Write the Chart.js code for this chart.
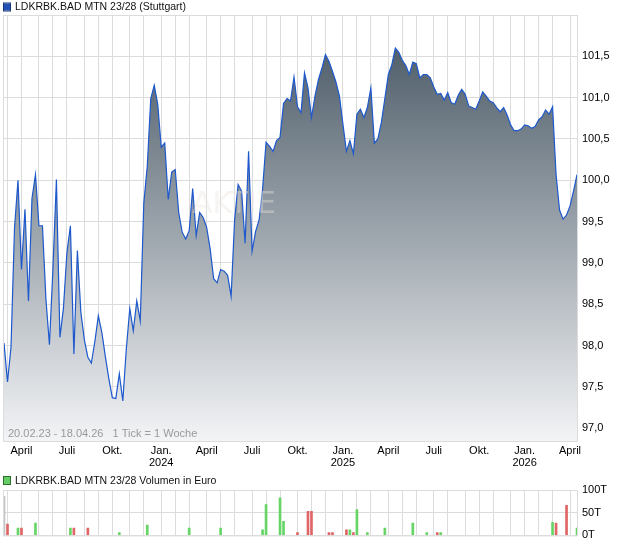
<!DOCTYPE html>
<html>
<head>
<meta charset="utf-8">
<script src="https://cdn.jsdelivr.net/npm/chart.js@4.4.1/dist/chart.umd.min.js"></script>
<style>
  body { margin: 0; background: #fff; }
  canvas { display: block; }
</style>
</head>
<body>
<canvas id="price" width="620" height="470"></canvas>
<canvas id="volume" width="620" height="76"></canvas>
<script>
// weekly closing prices, one per week starting 20.02.2023
const prices = [
  98.03, 97.56, 97.98, 99.42, 100.00, 98.92, 99.65, 98.54, 99.78, 100.07,
  99.45, 99.45, 98.56, 98.01, 98.93, 100.01, 98.10, 98.45, 99.12, 99.45,
  97.90, 99.15, 98.40, 98.07, 97.86, 97.79, 98.05, 98.36, 98.16, 97.87,
  97.60, 97.37, 97.36, 97.66, 97.33, 97.96, 98.45, 98.18, 98.54, 98.30,
  99.72, 100.17, 100.99, 101.15, 100.92, 100.40, 100.45, 99.77, 100.10, 100.13,
  99.61, 99.37, 99.29, 99.39, 99.90, 99.33, 99.61, 99.55, 99.43, 99.17,
  98.81, 98.76, 98.92, 98.90, 98.85, 98.60, 99.52, 99.95, 99.87, 99.24,
  100.35, 99.14, 99.38, 99.52, 99.89, 100.46, 100.41, 100.35, 100.48, 100.52,
  100.93, 100.99, 100.96, 101.25, 100.89, 100.82, 101.30, 101.12, 100.76, 101.02,
  101.22, 101.36, 101.52, 101.44, 101.32, 101.19, 101.02, 100.68, 100.35, 100.48,
  100.32, 100.80, 100.86, 100.76, 100.88, 101.12, 100.45, 100.50, 100.70, 100.99,
  101.28, 101.40, 101.60, 101.55, 101.45, 101.39, 101.28, 101.43, 101.41, 101.24,
  101.28, 101.28, 101.24, 101.13, 101.04, 101.05, 100.97, 101.06, 100.94, 100.92,
  101.03, 101.10, 101.04, 100.90, 100.88, 100.86, 100.96, 101.07, 101.02, 100.96,
  100.94, 100.88, 100.83, 100.88, 100.79, 100.67, 100.60, 100.60, 100.62, 100.67,
  100.66, 100.63, 100.65, 100.73, 100.77, 100.85, 100.80, 100.89, 100.07, 99.64,
  99.53, 99.58, 99.69, 99.87, 100.07
];

// weeks with turnover, turnover in thousand euro, bar colour
const volWeeks = [0, 1, 4, 5, 9, 19, 20, 24, 33, 41, 53, 62, 74, 75, 79, 80, 84, 87, 88, 93,
  94, 98, 99, 100, 101, 104, 109, 117, 121, 124, 125, 157, 158, 161, 164];
const volValues = [86, 25, 16, 16, 27, 16, 16, 16, 6, 23, 16, 16, 12, 68, 83, 31, 6, 53, 53, 6,
  6, 12, 12, 6, 57, 6, 16, 27, 6, 6, 6, 29, 27, 66, 16];
const volColors = ['none', 'down', 'up', 'down', 'up', 'up', 'down', 'down', 'up', 'up', 'up', 'up',
  'up', 'up', 'up', 'up', 'down', 'down', 'down', 'down', 'down', 'down', 'up', 'down', 'up', 'up',
  'up', 'up', 'up', 'down', 'up', 'up', 'down', 'down', 'up'];

// axis ticks
const priceTicks = [97, 97.5, 98, 98.5, 99, 99.5, 100, 100.5, 101, 101.5];
const volumeTicks = [0, 50, 100];
const quarterLabels = { 0: 'Jan.', 3: 'April', 6: 'Juli', 9: 'Okt.' };

const startDay = Date.UTC(2023, 1, 20);
const gridColor = '#dcdcdc';
const barPalette = { up: '#66d566', down: '#de6666', none: '#c4c4c4' };

Chart.defaults.font.family = '"Liberation Sans", Arial, sans-serif';
Chart.defaults.font.size = 11;
Chart.defaults.color = '#000';

/**
 * monthly grid positions, snapped to the week that holds the 1st of the month
 */
const buildMonthTicks = () => {
  const ticks = [];
  for (let y = 2023; y <= 2026; y++) {
    for (let m = 0; m < 12; m++) {
      const day = Date.UTC(y, m, 1);
      if (day <= startDay || (y === 2026 && m > 3)) continue;
      const week = Math.floor((day - startDay) / (7 * 864e5));
      let label = quarterLabels[m] || '';
      if (m === 0) label = [label, String(y)];
      ticks.push({ week, label });
    }
  }
  return ticks;
};
const monthTicks = buildMonthTicks();

/**
 * x scale in weeks, shared by both panels
 * @param {boolean} showLabels draw month labels
 * @param {number} height fixed axis height
 */
const weekScale = (showLabels, height) => ({
  type: 'linear',
  min: -0.29,
  max: 164.28,
  offset: false,
  grid: { color: gridColor, drawTicks: false, offset: false },
  border: { display: false },
  ticks: {
    display: showLabels,
    autoSkip: false,
    maxRotation: 0,
    padding: 4,
    font: { lineHeight: 1.1 },
    callback: (value, index) => (monthTicks[index] ? monthTicks[index].label : '')
  },
  afterBuildTicks: scale => {
    scale.ticks = monthTicks.map(t => ({ value: t.week }));
  },
  afterFit: scale => {
    scale.height = height;
  }
});

/**
 * little legend square with its caption above a panel
 */
const headerPlugin = (id, text, fill, stroke, y) => ({
  id,
  afterDraw: chart => {
    const c = chart.ctx;
    c.save();
    c.fillStyle = fill;
    c.fillRect(3.5, y - 4, 7, 7);
    c.strokeStyle = stroke;
    c.lineWidth = 1;
    c.strokeRect(3.5, y - 4.5, 7, 8);
    c.fillStyle = '#111';
    c.font = '10.5px "Liberation Sans", Arial, sans-serif';
    c.textBaseline = 'middle';
    c.fillText(text, 15, y);
    c.restore();
  }
});

// frame round the plot area
const framePlugin = {
  id: 'frame',
  afterDatasetsDraw: chart => {
    const { ctx, chartArea } = chart;
    ctx.save();
    ctx.strokeStyle = gridColor;
    ctx.lineWidth = 1;
    ctx.strokeRect(chartArea.left + 0.5, chartArea.top + 0.5,
      chartArea.right - chartArea.left - 1, chartArea.bottom - chartArea.top);
    ctx.restore();
  }
};

// watermark and period note
const notePlugin = {
  id: 'note',
  afterDatasetsDraw: chart => {
    const { ctx, chartArea } = chart;
    ctx.save();
    ctx.fillStyle = 'rgba(236, 228, 220, 0.4)';
    ctx.font = '30px "DejaVu Sans", sans-serif';
    ctx.textBaseline = 'middle';
    ctx.fillText('AKTIE', 192, 205);
    ctx.fillStyle = '#9a9a9a';
    ctx.font = '11px "Liberation Sans", Arial, sans-serif';
    ctx.fillText('20.02.23 - 18.04.26   1 Tick = 1 Woche', chartArea.left + 5, chartArea.bottom - 7);
    ctx.restore();
  }
};

/**
 * render the price panel
 */
const renderPriceChart = () => {
  const canvas = document.getElementById('price');
  new Chart(canvas, {
    type: 'line',
    data: {
      datasets: [{
        data: prices.map((v, i) => ({ x: i, y: v })),
        borderColor: '#1d58cc',
        borderWidth: 1.2,
        pointRadius: 0,
        tension: 0,
        fill: 'start',
        backgroundColor: context => {
          const { ctx, chartArea } = context.chart;
          if (!chartArea) return 'rgba(0,0,0,0)';
          const g = ctx.createLinearGradient(0, chartArea.top, 0, chartArea.bottom);
          g.addColorStop(0, '#435360');
          g.addColorStop(1, '#f3f4f6');
          return g;
        }
      }]
    },
    options: {
      responsive: false,
      animation: false,
      devicePixelRatio: 1,
      layout: { padding: { left: 3, top: 15, right: 0, bottom: 0 } },
      plugins: { legend: { display: false }, tooltip: { enabled: false } },
      scales: {
        x: weekScale(true, 29),
        y: {
          position: 'right',
          min: 96.846,
          max: 102.0,
          grid: { color: gridColor, drawTicks: false },
          border: { display: false },
          ticks: { padding: 4, callback: v => v.toFixed(1).replace('.', ',') },
          afterBuildTicks: scale => {
            scale.ticks = priceTicks.map(v => ({ value: v }));
          },
          afterFit: scale => {
            scale.width = 42;
          }
        }
      }
    },
    plugins: [
      framePlugin,
      notePlugin,
      headerPlugin('priceHeader', 'LDKRBK.BAD MTN 23/28 (Stuttgart)', '#2152b4', '#16347a', 7.5)
    ]
  });
};

/**
 * render the turnover panel
 */
const renderVolumeChart = () => {
  const canvas = document.getElementById('volume');
  new Chart(canvas, {
    type: 'bar',
    data: {
      datasets: [{
        data: volWeeks.map((w, i) => ({ x: w, y: volValues[i] })),
        backgroundColor: volColors.map(c => barPalette[c]),
        barThickness: 2
      }]
    },
    options: {
      responsive: false,
      animation: false,
      devicePixelRatio: 1,
      layout: { padding: { left: 3, top: 20, right: 0, bottom: 0 } },
      plugins: { legend: { display: false }, tooltip: { enabled: false } },
      scales: {
        x: weekScale(false, 9),
        y: {
          position: 'right',
          min: 0,
          max: 100,
          grid: { color: gridColor, drawTicks: false },
          border: { display: false },
          ticks: { padding: 4, callback: v => v + 'T' },
          afterBuildTicks: scale => {
            scale.ticks = volumeTicks.map(v => ({ value: v }));
          },
          afterFit: scale => {
            scale.width = 42;
          }
        }
      }
    },
    plugins: [
      framePlugin,
      headerPlugin('volumeHeader', 'LDKRBK.BAD MTN 23/28 Volumen in Euro', '#66cc66', '#2c6e2c', 11)
    ]
  });
};

renderPriceChart();
renderVolumeChart();
</script>
</body>
</html>
